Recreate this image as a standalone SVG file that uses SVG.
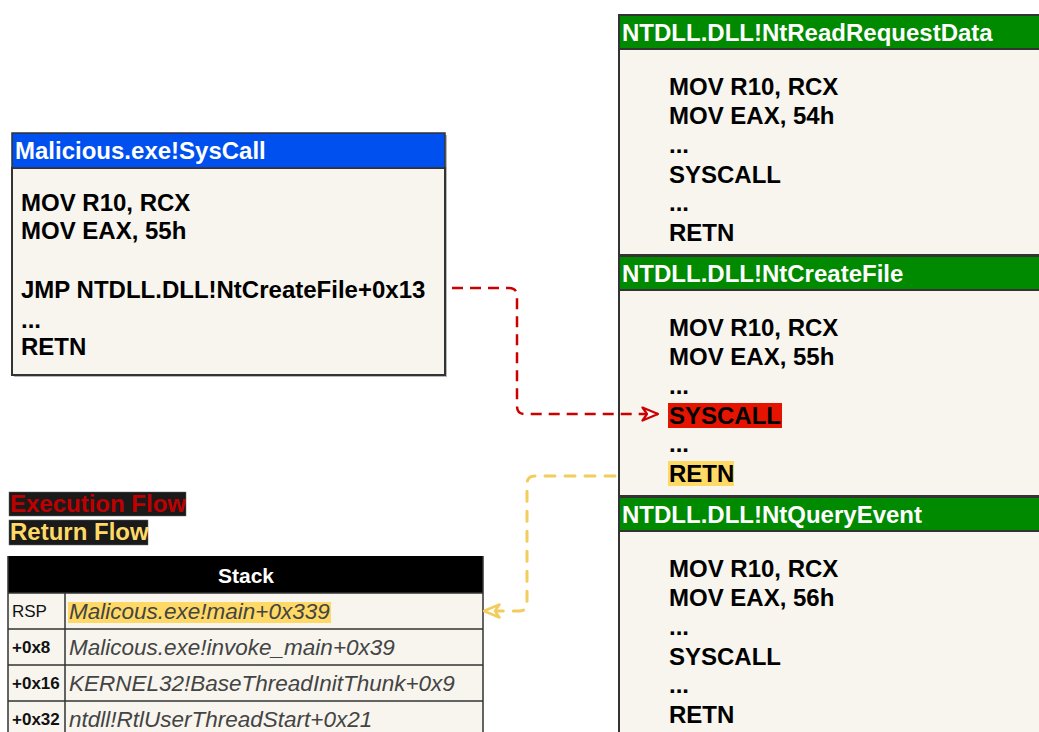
<svg xmlns="http://www.w3.org/2000/svg" width="1039" height="732" viewBox="0 0 1039 732">
  <style>
    .t { font-family: "Liberation Sans", Arial, sans-serif; font-weight: bold; font-size: 24px; fill: #000; }
    .hd { font-family: "Liberation Sans", Arial, sans-serif; font-weight: bold; font-size: 24px; fill: #fff; }
    .body { fill: #F7F5EE; stroke: #333; stroke-width: 2; }
    .green { fill: #008A00; stroke: #333; stroke-width: 2; }
    .blue { fill: #0050EF; stroke: #333; stroke-width: 1.5; }
    .lbl { font-family: "Liberation Sans", Arial, sans-serif; font-size: 17px; font-weight: bold; fill: #111; }
    .val { font-family: "Liberation Sans", Arial, sans-serif; font-size: 22.5px; font-style: italic; fill: #444; }
    .grid { stroke: #333; stroke-width: 1.5; fill: none; }
  </style>
  <defs>
    <marker id="arrRed" viewBox="0 0 18 16" refX="17" refY="8" markerWidth="18" markerHeight="16" markerUnits="userSpaceOnUse" orient="auto">
      <path d="M1.5,1.5 L17,8 L1.5,14.5 L6,8 Z" fill="#fff" stroke="#CC0000" stroke-width="2.2" stroke-linejoin="round"/>
    </marker>
    <marker id="arrYel" viewBox="0 0 18 16" refX="17" refY="8" markerWidth="18" markerHeight="16" markerUnits="userSpaceOnUse" orient="auto">
      <path d="M1.5,1.5 L17,8 L1.5,14.5 L6,8 Z" fill="#fff" stroke="#F2CC5C" stroke-width="2.5" stroke-linejoin="round"/>
    </marker>
  </defs>

  <rect width="1039" height="732" fill="#fff"/>

  <!-- user-mode stub that jumps into ntdll -->
  <g id="malicious-syscall">
    <rect x="14" y="135" width="433" height="242" fill="#888" opacity="0.6"/>
    <rect x="12" y="168" width="433" height="207" class="body"/>
    <rect x="12" y="133" width="433" height="35" class="blue"/>
    <text x="15" y="159" class="hd">Malicious.exe!SysCall</text>
    <text x="21" y="211" class="t">MOV R10, RCX</text>
    <text x="21" y="239" class="t">MOV EAX, 55h</text>
    <text x="21" y="298" class="t">JMP NTDLL.DLL!NtCreateFile+0x13</text>
    <text x="21" y="328" class="t">...</text>
    <text x="21" y="355" class="t">RETN</text>
  </g>

  <!-- ntdll syscall stubs -->
  <g id="nt-read-request-data">
    <rect x="619" y="49" width="430" height="206" class="body"/>
    <rect x="619" y="15" width="430" height="34" class="green"/>
    <text x="622" y="41" class="hd">NTDLL.DLL!NtReadRequestData</text>
    <text x="669" y="95" class="t">MOV R10, RCX</text>
    <text x="669" y="124" class="t">MOV EAX, 54h</text>
    <text x="669" y="153" class="t">...</text>
    <text x="669" y="183" class="t">SYSCALL</text>
    <text x="669" y="211" class="t">...</text>
    <text x="669" y="241" class="t">RETN</text>
  </g>

  <g id="nt-create-file">
    <rect x="619" y="290" width="430" height="206" class="body"/>
    <rect x="619" y="256" width="430" height="34" class="green"/>
    <text x="622" y="282" class="hd">NTDLL.DLL!NtCreateFile</text>
    <text x="669" y="336" class="t">MOV R10, RCX</text>
    <text x="669" y="365" class="t">MOV EAX, 55h</text>
    <text x="669" y="394" class="t">...</text>
    <rect x="668" y="403" width="114" height="25" fill="#E51400"/>
    <text x="669" y="424" class="t">SYSCALL</text>
    <text x="669" y="452" class="t">...</text>
    <rect x="668" y="461" width="66" height="25" fill="#FFD966"/>
    <text x="669" y="482" class="t">RETN</text>
  </g>

  <g id="nt-query-event">
    <rect x="619" y="531" width="430" height="210" class="body"/>
    <rect x="619" y="497" width="430" height="34" class="green"/>
    <text x="622" y="523" class="hd">NTDLL.DLL!NtQueryEvent</text>
    <text x="669" y="577" class="t">MOV R10, RCX</text>
    <text x="669" y="606" class="t">MOV EAX, 56h</text>
    <text x="669" y="635" class="t">...</text>
    <text x="669" y="665" class="t">SYSCALL</text>
    <text x="669" y="693" class="t">...</text>
    <text x="669" y="723" class="t">RETN</text>
  </g>

  <!-- legend -->
  <g id="legend">
    <rect x="9" y="492" width="177" height="24" fill="#1A1A1A" stroke="#666" stroke-width="0.5"/>
    <text x="10" y="512" class="t" style="fill:#C00000">Execution Flow</text>
    <rect x="9" y="520" width="139" height="25" fill="#1A1A1A" stroke="#666" stroke-width="0.5"/>
    <text x="10" y="540" class="t" style="fill:#FFD966">Return Flow</text>
  </g>

  <!-- call stack -->
  <g id="stack">
    <rect x="8" y="593" width="475" height="150" fill="#F7F5EE"/>
    <rect x="8" y="556" width="475" height="37" fill="#000"/>
    <text x="246" y="583" class="hd" style="font-size:21px" text-anchor="middle">Stack</text>
    <path class="grid" d="M8,556 V740 M483,556 V740 M65,593 V740 M8,593 H483 M8,629 H483 M8,665 H483 M8,701 H483"/>
    <rect x="68" y="602" width="263" height="21" fill="#FFD966"/>
    <text x="12" y="617" class="lbl" style="font-weight:normal">RSP</text>
    <text x="69" y="619" class="val">Malicous.exe!main+0x339</text>
    <text x="12" y="653" class="lbl">+0x8</text>
    <text x="69" y="655" class="val">Malicous.exe!invoke_main+0x39</text>
    <text x="12" y="689" class="lbl">+0x16</text>
    <text x="69" y="691" class="val">KERNEL32!BaseThreadInitThunk+0x9</text>
    <text x="12" y="725" class="lbl">+0x32</text>
    <text x="69" y="727" class="val">ntdll!RtlUserThreadStart+0x21</text>
  </g>

  <!-- flow connectors -->
  <g id="connectors" fill="none">
    <path d="M452,288 H509 Q517,288 517,296 V406 Q517,414 525,414 H658" stroke="#CC0000" stroke-width="2.5" stroke-dasharray="11,7" marker-end="url(#arrRed)"/>
    <path d="M615,476 H535 Q527,476 527,484 V603 Q527,611 519,611 H484" stroke="#F2CC5C" stroke-width="3" stroke-dasharray="10,10" stroke-linecap="round" marker-end="url(#arrYel)"/>
  </g>
</svg>
